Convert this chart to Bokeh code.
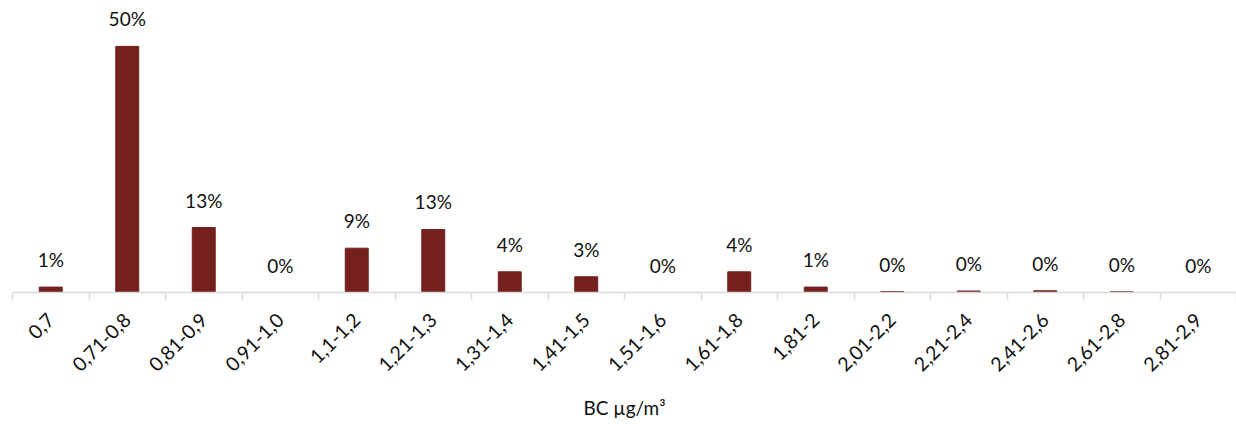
import numpy as np
from bokeh.plotting import figure
from bokeh.models import ColumnDataSource, FixedTicker, Range1d
from bokeh.core.properties import value
from bokeh.embed import file_html
from bokeh.resources import INLINE

categories = ["0,7", "0,71-0,8", "0,81-0,9", "0,91-1,0", "1,1-1,2", "1,21-1,3",
              "1,31-1,4", "1,41-1,5", "1,51-1,6", "1,61-1,8", "1,81-2", "2,01-2,2",
              "2,21-2,4", "2,41-2,6", "2,61-2,8", "2,81-2,9"]
shares = [1.1, 50.0, 13.2, 0.0, 9.0, 12.8, 4.2, 3.2, 0.0, 4.2, 1.1, 0.2, 0.3, 0.35, 0.15, 0.0]
labels = ["1%", "50%", "13%", "0%", "9%", "13%", "4%", "3%", "0%", "4%", "1%",
          "0%", "0%", "0%", "0%", "0%"]

FONT = "Lato"
BAR = "#73201f"

xs = [i + 0.5 for i in range(len(categories))]
src = ColumnDataSource(dict(x=xs, y=shares, lab=labels))

p = figure(width=1236, height=424, output_backend="svg", toolbar_location=None,
           x_range=Range1d(0, len(categories)), y_range=Range1d(0, 57.7),
           min_border_left=12, min_border_right=0, min_border_top=8, min_border_bottom=132)
p.vbar(x="x", top="y", width=0.3, source=src, color=BAR)
p.text(x="x", y="y", text="lab", source=src, text_align="center", text_baseline="bottom",
       y_offset=-16, text_font=value(FONT), text_font_size="19px", text_color="#111111")

ax = p.xaxis[0]
ax.ticker = FixedTicker(ticks=xs, minor_ticks=list(range(len(categories) + 1)))
ax.major_label_overrides = {x: c for x, c in zip(xs, categories)}
ax.major_label_orientation = np.pi / 4
ax.major_tick_out = 0
ax.major_tick_in = 0
ax.minor_tick_out = 7
ax.minor_tick_in = 0
ax.minor_tick_line_color = "#d9d9d9"
ax.minor_tick_line_width = 1.5
ax.axis_line_color = "#d9d9d9"
ax.axis_line_width = 1.5
ax.major_label_text_font = FONT
ax.major_label_text_font_size = "19.5px"
ax.major_label_text_color = "#111111"
ax.major_label_standoff = 17
ax.axis_label = "BC µg/m³"
ax.axis_label_text_font = FONT
ax.axis_label_text_font_size = "19px"
ax.axis_label_text_font_style = "normal"
ax.axis_label_text_color = "#111111"
ax.axis_label_standoff = 15

p.yaxis.visible = False
p.grid.visible = False
p.outline_line_color = None

open("out.html", "w").write(file_html(p, INLINE))
